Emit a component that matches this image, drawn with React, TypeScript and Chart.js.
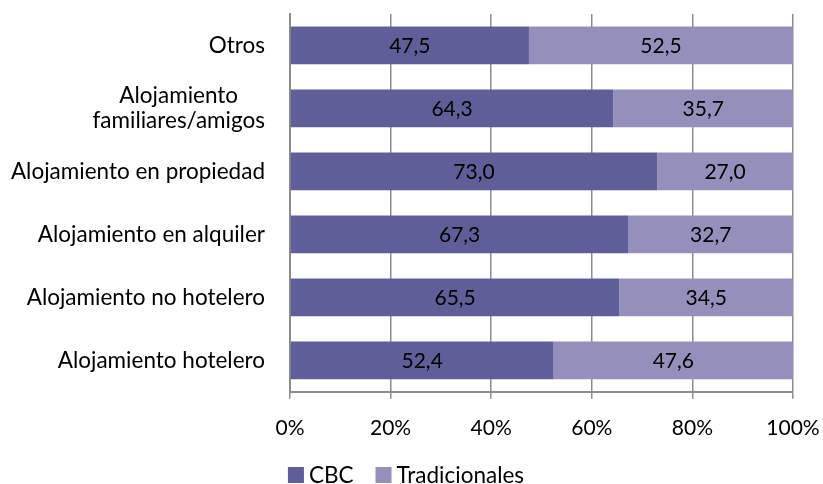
import React, { useEffect, useRef } from "react";
import { Chart, registerables } from "chart.js";

Chart.register(...registerables);

const categories = [
  "Otros",
  "Alojamiento\nfamiliares/amigos",
  "Alojamiento en propiedad",
  "Alojamiento en alquiler",
  "Alojamiento no hotelero",
  "Alojamiento hotelero",
];
const cbcValues = [47.5, 64.3, 73.0, 67.3, 65.5, 52.4];
const tradValues = [52.5, 35.7, 27.0, 32.7, 34.5, 47.6];
const seriesNames = ["CBC", "Tradicionales"];
const seriesColors = ["#605E99", "#948FBB"];
const xTicks = [0, 20, 40, 60, 80, 100];

const FONT = "Lato, 'Open Sans', sans-serif";
const FS = 21;
const FS_TEXT = 22.5;

const labelsPlugin = {
  id: "customLabels",
  afterDraw(chart: any) {
    const ctx = chart.ctx;
    const area = chart.chartArea;
    const yScale = chart.scales.y;
    ctx.save();
    ctx.font = `${FS_TEXT}px ${FONT}`;
    ctx.fillStyle = "#000";
    // category labels
    categories.forEach((lab, i) => {
      const lines = lab.split("\n");
      const widths = lines.map((l) => ctx.measureText(l).width);
      const maxW = Math.max(...widths);
      const right = area.left - 25;
      const cy = yScale.getPixelForValue(i);
      const lh = 25;
      const y0 = cy - ((lines.length - 1) * lh) / 2;
      ctx.textBaseline = "middle";
      ctx.textAlign = "center";
      lines.forEach((l, j) => {
        ctx.fillText(l, right - maxW / 2, y0 + j * lh);
      });
    });
    // legend
    const items = seriesNames.map((n) => ({ n, w: ctx.measureText(n).width }));
    const box = 16;
    const gapBox = 5;
    const gapItem = 22;
    const total =
      items.reduce((s, it) => s + box + gapBox + it.w, 0) + gapItem * (items.length - 1);
    let lx = 406 - total / 2;
    const ly = 475;
    ctx.textAlign = "left";
    ctx.textBaseline = "middle";
    items.forEach((it, k) => {
      ctx.fillStyle = seriesColors[k];
      ctx.fillRect(lx, ly - box / 2, box, box);
      ctx.fillStyle = "#000";
      ctx.fillText(it.n, lx + box + gapBox, ly + 1);
      lx += box + gapBox + it.w + gapItem;
    });
    // value labels
    ctx.font = `${FS}px ${FONT}`;
    chart.data.datasets.forEach((ds: any, di: number) => {
      const meta = chart.getDatasetMeta(di);
      meta.data.forEach((bar: any, i: number) => {
        const v = ds.data[i];
        const { x, base, y } = bar.getProps(["x", "base", "y"], true);
        ctx.textAlign = "center";
        ctx.textBaseline = "middle";
        ctx.fillText(v.toFixed(1).replace(".", ","), (x + base) / 2, y + 1);
      });
    });
    ctx.restore();
  },
};

export default function App() {
  const ref = useRef<HTMLCanvasElement>(null);
  useEffect(() => {
    document.body.style.margin = "0";
    const chart = new Chart(ref.current!, {
      type: "bar",
      data: {
        labels: categories,
        datasets: seriesNames.map((n, k) => ({
          label: n,
          data: k === 0 ? cbcValues : tradValues,
          backgroundColor: seriesColors[k],
          barPercentage: 0.6,
          categoryPercentage: 1,
        })),
      },
      options: {
        indexAxis: "y",
        animation: false,
        responsive: false,
        layout: { padding: { left: 290, right: 30, top: 14, bottom: 26 } },
        plugins: {
          legend: { display: false },
          tooltip: { enabled: false },
        },
        scales: {
          x: {
            stacked: true,
            min: 0,
            max: 100,
            afterBuildTicks: (axis: any) => {
              axis.ticks = xTicks.map((v) => ({ value: v }));
            },
            afterFit: (axis: any) => {
              axis.paddingLeft = 0;
              axis.paddingRight = 0;
            },
            ticks: {
              callback: (v: any) => v + "%",
              color: "#000",
              font: { family: FONT, size: FS },
              padding: 17,
            },
            grid: {
              color: "#8c8c8c",
              lineWidth: 1.5,
              tickLength: 7,
              drawOnChartArea: true,
            },
            border: { color: "#8c8c8c", width: 2 },
          },
          y: {
            stacked: true,
            ticks: { display: false },
            grid: { display: false, drawTicks: false },
            border: { color: "#8c8c8c", width: 2 },
          },
        },
      },
      plugins: [labelsPlugin],
    } as any);
    return () => chart.destroy();
  }, []);
  return (
    <div style={{ width: 823, height: 484 }}>
      <canvas ref={ref} width={823} height={484} />
    </div>
  );
}
